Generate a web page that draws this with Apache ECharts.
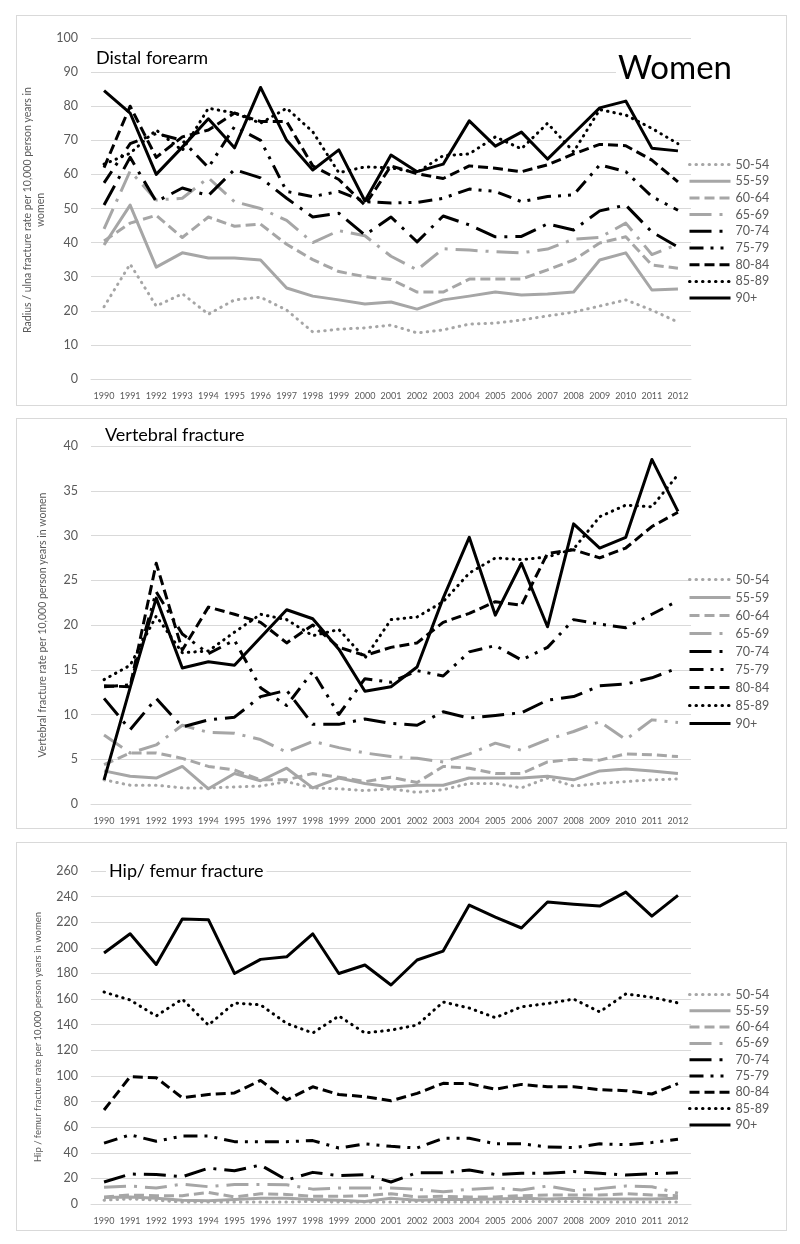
<!DOCTYPE html>
<html><head><meta charset="utf-8">
<script src="https://cdn.jsdelivr.net/npm/echarts@6/dist/echarts.min.js"></script>
<style>
html,body{margin:0;padding:0;background:#fff;width:800px;height:1244px;overflow:hidden}
.panel{position:absolute;left:16px;width:771px;border:1px solid #d9d9d9;box-sizing:border-box}
.chart{position:absolute;left:0;top:0;right:0;bottom:0}
</style></head><body>
<div class="panel" style="top:15px;height:391px"><div id="c1" class="chart"></div></div>
<div class="panel" style="top:418px;height:411px"><div id="c2" class="chart"></div></div>
<div class="panel" style="top:842px;height:389px"><div id="c3" class="chart"></div></div>
<script>
const years = ['1990','1991','1992','1993','1994','1995','1996','1997','1998','1999','2000','2001','2002','2003','2004','2005','2006','2007','2008','2009','2010','2011','2012'];
const ageGroups = ['50-54','55-59','60-64','65-69','70-74','75-79','80-84','85-89','90+'];

// Distal forearm
const f5054 = [21.2, 33.7, 21.4, 25, 19, 23.2, 24, 20.2, 13.8, 14.6, 15, 15.8, 13.5, 14.4, 16.1, 16.4, 17.3, 18.5, 19.6, 21.4, 23.2, 20.2, 16.7];
const f5559 = [39.3, 51, 32.8, 37, 35.5, 35.5, 34.9, 26.7, 24.3, 23.2, 22, 22.6, 20.5, 23.2, 24.3, 25.5, 24.6, 24.9, 25.5, 34.9, 37, 26.1, 26.4];
const f6064 = [40.5, 45.7, 48, 41.5, 47.5, 44.8, 45.4, 39.5, 35, 31.5, 30, 29.2, 25.5, 25.5, 29.3, 29.3, 29.3, 32, 34.9, 39.9, 41.7, 33.4, 32.5];
const f6569 = [44, 61, 52.5, 53, 59, 52, 50, 46.5, 40, 43.5, 42, 36, 32, 38.2, 37.8, 37.3, 37, 38.1, 41, 41.5, 45.7, 36.5, 39.5];
const f7074 = [51, 65, 52, 56, 53.8, 61.4, 59, 53, 47.5, 48.6, 42.2, 47.5, 40.2, 47.8, 45.2, 41.7, 41.8, 45.5, 43.7, 49.3, 51, 43.1, 38.7];
const f7579 = [57.5, 69, 72, 70, 62, 74, 70, 55, 53.5, 55, 52, 51.6, 51.8, 53, 55.7, 55, 52, 53.5, 54, 62.8, 60.8, 53.5, 49.5];
const f8084 = [62, 80, 65, 71, 73, 78, 75.5, 75.5, 62.5, 58.5, 51, 62.5, 60.2, 58.8, 62.5, 61.8, 60.8, 62.8, 66, 68.8, 68.4, 64.2, 57.8];
const f8589 = [63, 66.2, 73, 67, 79.4, 78, 75, 79.4, 72.5, 60.5, 62.2, 61.9, 60.6, 65.5, 66, 71, 67.5, 75, 66.6, 79, 77.4, 73.5, 69];
const f90   = [84.6, 78, 60, 68, 76.3, 67.8, 85.5, 70, 61.3, 67.2, 52.2, 65.7, 60.8, 63, 75.7, 68.3, 72.4, 64.5, 72, 79.5, 81.5, 67.7, 66.9];

// Vertebral fracture
const v5054 = [2.7, 2.1, 2.1, 1.8, 1.8, 1.9, 2.0, 2.5, 1.8, 1.7, 1.5, 1.7, 1.3, 1.6, 2.3, 2.3, 1.8, 2.9, 2.0, 2.3, 2.5, 2.7, 2.8];
const v5559 = [3.7, 3.1, 2.9, 4.2, 1.7, 3.4, 2.6, 4.0, 1.8, 2.9, 2.3, 1.9, 2.1, 2.1, 2.9, 2.9, 2.9, 3.1, 2.7, 3.7, 3.9, 3.7, 3.4];
const v6064 = [4.4, 5.7, 5.7, 5.1, 4.2, 3.8, 2.7, 2.7, 3.4, 3.0, 2.5, 3.0, 2.4, 4.2, 4.0, 3.4, 3.4, 4.7, 5.0, 4.9, 5.6, 5.5, 5.3];
const v6569 = [7.7, 5.7, 6.6, 8.8, 8.0, 7.9, 7.2, 5.8, 7.0, 6.3, 5.7, 5.3, 5.1, 4.7, 5.6, 6.8, 6.0, 7.2, 8.1, 9.2, 7.2, 9.4, 9.1];
const v7074 = [11.8, 8.3, 11.8, 8.6, 9.4, 9.7, 12.0, 12.7, 8.9, 8.9, 9.5, 9.0, 8.8, 10.3, 9.6, 9.9, 10.2, 11.6, 12.0, 13.2, 13.4, 14.1, 15.2];
const v7579 = [13.1, 13.3, 23.7, 19.0, 16.8, 18.3, 13.0, 11.0, 14.8, 10.0, 14.0, 13.6, 14.9, 14.3, 17.0, 17.7, 16.1, 17.5, 20.6, 20.1, 19.7, 21.2, 22.7];
const v8084 = [13.2, 13.1, 26.9, 17.2, 22.0, 21.2, 20.3, 18.0, 20.0, 17.5, 16.6, 17.5, 18.0, 20.3, 21.3, 22.6, 22.2, 28.0, 28.4, 27.5, 28.6, 31.0, 32.6];
const v8589 = [13.9, 15.5, 21.0, 16.9, 17.1, 19.2, 21.2, 20.6, 18.8, 19.5, 16.3, 20.6, 20.9, 22.6, 25.8, 27.5, 27.3, 27.6, 28.5, 32.1, 33.4, 33.2, 36.8];
const v90   = [2.7, 13.0, 23.0, 15.2, 15.9, 15.5, 18.6, 21.7, 20.7, 17.3, 12.6, 13.1, 15.3, 23.0, 29.8, 21.1, 26.9, 19.8, 31.3, 28.6, 29.8, 38.5, 32.7];

// Hip / femur fracture
const h5054 = [3, 4, 3, 1.5, 1.5, 1.5, 1.5, 1.5, 2, 1.5, 1.5, 1.5, 2, 1.5, 1.5, 1.5, 2, 2, 2, 1.5, 1.5, 1.5, 1.5];
const h5559 = [5, 5.5, 4.5, 3, 2.5, 3.5, 4.5, 4.5, 3.5, 3, 2, 4.5, 3, 3.5, 3.5, 4, 4.5, 4, 4.5, 4, 4, 4, 4.5];
const h6064 = [5.5, 7, 6.5, 6.5, 9, 5.5, 8, 7.5, 6, 6, 6.5, 8, 5.5, 6, 5.5, 5.5, 6.5, 7, 7, 7, 8, 7, 6.5];
const h6569 = [13, 14, 12.5, 15.5, 13.5, 15.2, 15.2, 15, 11.6, 12.5, 12.5, 12.5, 11.5, 9.5, 11.5, 12.5, 11, 14, 10.5, 12, 14, 13.5, 8.5];
const h7074 = [17.2, 23.4, 23, 21.3, 28, 26, 30.4, 18.7, 24.7, 22.1, 22.8, 17.2, 24.4, 24.4, 26.5, 23, 24, 24, 25.3, 24, 22.6, 23.7, 24.4];
const h7579 = [47.5, 54, 49, 53, 53, 48.7, 48.5, 48.7, 49.5, 43.7, 47, 45, 43.7, 51.3, 51.3, 47, 47, 44.5, 44, 47, 46.3, 48, 50.6];
const h8084 = [73.4, 99.4, 98.6, 82.9, 85.5, 86.7, 96.5, 81.2, 91.5, 85.5, 83.8, 80.6, 86.4, 94.2, 94, 89.6, 93.4, 91.5, 91.5, 89.3, 88.5, 85.9, 94];
const h8589 = [165.5, 159.3, 146.8, 160, 139.7, 156.9, 155.5, 141, 133.5, 146.8, 133.5, 135.8, 139.7, 157.7, 153, 145.5, 154, 156.5, 160, 150, 164, 161.4, 157];
const h90   = [196, 211, 187, 222.5, 222, 180, 191, 193, 211, 180, 186.6, 171, 190.5, 197.5, 233.4, 224, 215.5, 235.8, 234, 232.6, 243.5, 224.8, 241];

const GRAY = '#a6a6a6', BLACK = '#000000', TXT = '#595959', FONT = 'Lato, "Liberation Sans", sans-serif';
const styles = [
  {color: GRAY, type: [0.5, 6], cap: 'round', width: 3},
  {color: GRAY, type: 'solid', cap: 'butt', width: 3},
  {color: GRAY, type: [10, 5], cap: 'butt', width: 3},
  {color: GRAY, type: [22, 8, 3, 8], cap: 'butt', width: 3},
  {color: BLACK, type: [22, 8, 3, 8], cap: 'butt', width: 3},
  {color: BLACK, type: [14, 7, 3, 7, 3, 7], cap: 'butt', width: 3},
  {color: BLACK, type: [10, 5], cap: 'butt', width: 3},
  {color: BLACK, type: [0.5, 6], cap: 'round', width: 3},
  {color: BLACK, type: 'solid', cap: 'butt', width: 3}
];

function build(cfg) {
  const series = cfg.data.map((d, i) => ({
    name: ageGroups[i], type: 'line', data: d, symbol: 'none', silent: true,
    lineStyle: Object.assign({}, styles[i], {join: 'round'}),
    itemStyle: {color: styles[i].color}
  }));
  const graphics = [
    {type: 'text', left: cfg.titleX, top: cfg.titleY, z: 100,
     style: {text: cfg.title, fill: '#000', font: '18px ' + FONT, backgroundColor: '#fff', padding: [1, 3, 1, 3]}},
    {type: 'text', x: cfg.nameX, y: cfg.nameY, rotation: Math.PI / 2,
     style: {text: cfg.yName, fill: TXT, font: cfg.nameSize + 'px ' + FONT, align: 'center', verticalAlign: 'middle', lineHeight: cfg.nameSize + 2}}
  ];
  if (cfg.extra) graphics.push(cfg.extra);
  return {
    animation: false,
    textStyle: {fontFamily: FONT},
    grid: {left: 74, top: cfg.gridTop, width: 600, height: cfg.gridH},
    xAxis: {type: 'category', data: years, boundaryGap: true,
      axisTick: {show: false}, axisLine: {lineStyle: {color: '#d9d9d9'}},
      axisLabel: {interval: 0, fontSize: 9, color: TXT, margin: 13, fontFamily: FONT}},
    yAxis: {type: 'value', min: 0, max: cfg.max, interval: cfg.interval,
      axisLine: {show: false}, axisTick: {show: false},
      splitLine: {lineStyle: {color: '#d9d9d9', width: 1}},
      axisLabel: {fontSize: 12.5, color: TXT, margin: 13, fontFamily: FONT}},
    legend: {orient: 'vertical', left: 671, top: cfg.legTop, padding: 0,
      itemWidth: 41, itemHeight: 12, itemGap: cfg.legGap, data: ageGroups, selectedMode: false,
      itemStyle: {opacity: 0, color: 'rgba(0,0,0,0)', borderWidth: 0},
      lineStyle: {width: 3},
      textStyle: {fontSize: 12.5, color: TXT, fontFamily: FONT, lineHeight: 12}},
    graphic: graphics,
    series: series
  };
}

const c1 = echarts.init(document.getElementById('c1'));
c1.setOption(build({
  data: [f5054, f5559, f6064, f6569, f7074, f7579, f8084, f8589, f90],
  max: 100, interval: 10, gridTop: 22, gridH: 341, legTop: 142, legGap: 3.7,
  title: 'Distal forearm', titleX: 76, titleY: 32,
  yName: 'Radius / ulna fracture rate per 10,000 person years in\nwomen', nameX: 17, nameY: 194, nameSize: 10.5,
  extra: {type: 'text', left: 599, top: 36, z: 100, style: {text: 'Women', fill: '#000', font: '33px ' + FONT, backgroundColor: '#fff', padding: [0, 2, 0, 2]}}
}));

const c2 = echarts.init(document.getElementById('c2'));
c2.setOption(build({
  data: [v5054, v5559, v6064, v6569, v7074, v7579, v8084, v8589, v90],
  max: 40, interval: 5, gridTop: 27, gridH: 358, legTop: 154, legGap: 5,
  title: 'Vertebral fracture', titleX: 85, titleY: 6,
  yName: 'Vertebral fracture rate per 10,000 person years in women', nameX: 26, nameY: 206, nameSize: 10.5
}));

const c3 = echarts.init(document.getElementById('c3'));
c3.setOption(build({
  data: [h5054, h5559, h6064, h6569, h7074, h7579, h8084, h8589, h90],
  max: 260, interval: 20, gridTop: 28, gridH: 333, legTop: 145, legGap: 3.3,
  title: 'Hip/ femur fracture', titleX: 89, titleY: 18,
  yName: 'Hip / femur fracture rate per 10,000 person years in women', nameX: 21, nameY: 194, nameSize: 9.5
}));
</script>
</body></html>
